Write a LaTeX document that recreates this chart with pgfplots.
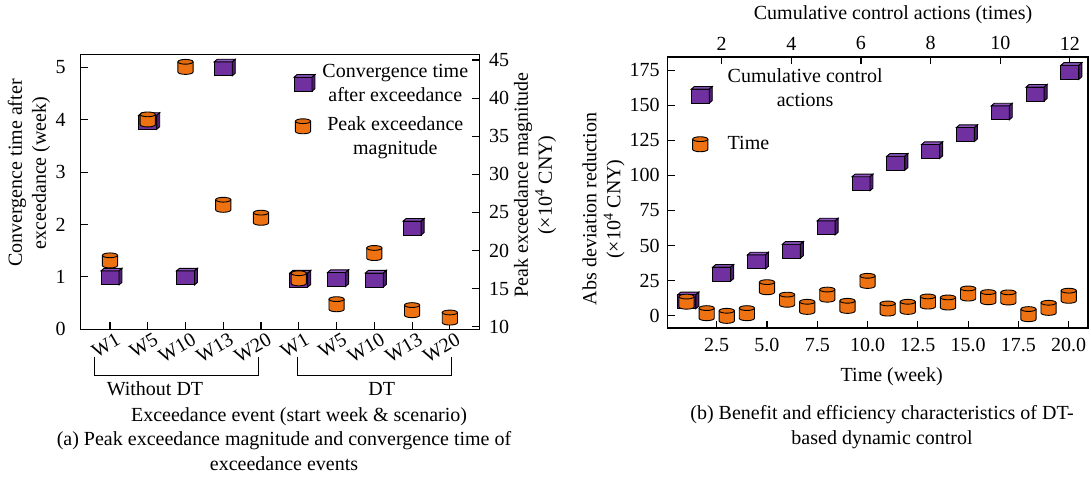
\documentclass[border=0pt]{standalone}
\usepackage{fontspec}
\setmainfont{Liberation Serif}
\usepackage{pgfplots}
\pgfplotsset{compat=1.18}

\definecolor{cubefront}{HTML}{7030A0}
\definecolor{cubetop}{HTML}{9158C4}
\definecolor{cubeside}{HTML}{4E1F73}
\definecolor{cylbody}{HTML}{EE7212}
\definecolor{cyltop}{HTML}{E36A0C}

% purple box drawn in a simple oblique projection
\pgfdeclareplotmark{dtbox}{%
  \pgfsetlinewidth{0.9pt}\pgfsetstrokecolor{black}%
  \pgfsetfillcolor{cubefront}%
  \pgfpathrectangle{\pgfpoint{-9pt}{-7pt}}{\pgfpoint{18pt}{14pt}}%
  \pgfusepath{fill,stroke}%
  \pgfsetfillcolor{cubetop}%
  \pgfpathmoveto{\pgfpoint{-9pt}{7pt}}%
  \pgfpathlineto{\pgfpoint{-6pt}{9.6pt}}%
  \pgfpathlineto{\pgfpoint{12pt}{9.6pt}}%
  \pgfpathlineto{\pgfpoint{9pt}{7pt}}%
  \pgfpathclose\pgfusepath{fill,stroke}%
  \pgfsetfillcolor{cubeside}%
  \pgfpathmoveto{\pgfpoint{9pt}{7pt}}%
  \pgfpathlineto{\pgfpoint{12pt}{9.6pt}}%
  \pgfpathlineto{\pgfpoint{12pt}{-4.4pt}}%
  \pgfpathlineto{\pgfpoint{9pt}{-7pt}}%
  \pgfpathclose\pgfusepath{fill,stroke}%
}
% orange cylinder
\pgfdeclareplotmark{dtcyl}{%
  \pgfsetlinewidth{0.9pt}\pgfsetstrokecolor{black}%
  \pgfsetfillcolor{cylbody}%
  \pgfpathmoveto{\pgfpoint{-7.6pt}{5.1pt}}%
  \pgfpathlineto{\pgfpoint{-7.6pt}{-5.1pt}}%
  \pgfpatharc{180}{360}{7.6pt and 2.4pt}%
  \pgfpathlineto{\pgfpoint{7.6pt}{5.1pt}}%
  \pgfusepath{fill,stroke}%
  \pgfsetfillcolor{cyltop}%
  \pgfpathellipse{\pgfpoint{0pt}{5.1pt}}{\pgfpoint{7.6pt}{0pt}}{\pgfpoint{0pt}{2.4pt}}%
  \pgfusepath{fill,stroke}%
}

\pgfplotsset{
  frame/.style={
    scale only axis, clip=false,
    tick align=inside, major tick length=7.5pt,
    axis line style={line width=1.2pt},
    tick style={line width=1.1pt, black},
    /pgf/number format/assume math mode=true,
  },
  boximg/.style={legend image code/.code={%
    \path (0pt,0pt) (20pt,0pt);
    \pgfscope\pgftransformshift{\pgfpoint{10pt}{#1}}\pgfuseplotmark{dtbox}\endpgfscope}},
  cylimg/.style={legend image code/.code={%
    \path (0pt,0pt) (20pt,0pt);
    \pgfscope\pgftransformshift{\pgfpoint{10pt}{#1}}\pgfuseplotmark{dtcyl}\endpgfscope}},
}

\begin{document}
\fontsize{20}{24}\selectfont
\begin{tikzpicture}
\path[use as bounding box] (0pt,-476pt) rectangle (1091pt,0pt);

% ---------------- (a) exceedance events ----------------
\begin{axis}[frame,
  at={(80.5pt,-329.3pt)}, anchor=south west,
  width=398.8pt, height=274.6pt,
  xmin=-0.78, xmax=9.78, ymin=0, ymax=5.24,
  xtick={0,...,9},
  xticklabels={W1,W5,W10,W13,W20,W1,W5,W10,W13,W20},
  ytick={0,...,5},
  xtick pos=left, ytick pos=left,
  xticklabel style={rotate=30, anchor=north east, inner sep=0pt, xshift=3pt, yshift=-5pt},
  yticklabel style={xshift=-8pt},
]
\addplot[black, only marks, mark=dtbox] coordinates {
  (0,0.98) (1,3.95) (2,0.98) (3,4.97) (5,0.94) (6,0.95) (7,0.94) (8,1.93)};
\end{axis}

\begin{axis}[frame,
  at={(80.5pt,-329.3pt)}, anchor=south west,
  width=398.8pt, height=274.6pt,
  xmin=-0.78, xmax=9.78, ymin=9.66, ymax=45.7,
  axis x line=none, axis y line*=right,
  ytick={10,15,...,45},
  yticklabel style={xshift=3pt},
  legend style={draw=none, fill=none, at={(0.985,0.981)}, anchor=north east,
    cells={align=center}, row sep=8pt, column sep=5pt},
]
\addlegendimage{boximg=0pt}
\addlegendentry{Convergence time\\after exceedance}
\addplot[black, only marks, mark=dtcyl, cylimg=10.5pt] coordinates {
  (0,18.7) (1,37.2) (2,44.1) (3,26.0) (4,24.3)
  (5,16.35) (6,12.95) (7,19.67) (8,12.17) (9,11.2)};
\addlegendentry{Peak exceedance\\magnitude}
\end{axis}

\node[rotate=90, align=center] at (29pt,-173pt) {Convergence time after\\exceedance (week)};
\node[rotate=90, align=center] at (535pt,-185pt) {Peak exceedance magnitude\\(×10\textsuperscript{4} CNY)};
\draw[line width=1pt] (94.7pt,-356.7pt) -- (94.7pt,-375pt) -- (258.3pt,-375pt) -- (258.3pt,-356.7pt);
\draw[line width=1pt] (297.3pt,-356.7pt) -- (297.3pt,-375pt) -- (451pt,-375pt) -- (451pt,-356.7pt);
\node at (155pt,-389pt) {Without DT};
\node at (381.7pt,-389pt) {DT};
\node at (299pt,-416.7pt) {Exceedance event (start week \& scenario)};
\node[align=center, font=\fontsize{20}{25}\selectfont] at (284pt,-451pt)
  {(a) Peak exceedance magnitude and convergence time of\\exceedance events};

% ---------------- (b) dynamic control ----------------
\begin{axis}[frame,
  at={(667.5pt,-328pt)}, anchor=south west,
  width=420.5pt, height=271pt,
  xmin=0.444, xmax=12.52, ymin=-8.76, ymax=184.3,
  axis x line*=top, axis y line=none,
  xtick={2,4,...,12},
]
\addplot[black, only marks, mark=dtbox] coordinates {
  (1,10.0) (2,29.6) (3,38.4) (4,45.9) (5,62.6) (6,94.0)
  (7,108.6) (8,117.0) (9,129.1) (10,144.5) (11,157.9) (12,173.4)};
\end{axis}

\begin{axis}[frame,
  at={(667.5pt,-328pt)}, anchor=south west,
  width=420.5pt, height=271pt,
  xmin=0.054, xmax=20.96, ymin=-8.76, ymax=184.3,
  xtick={2.5,5,...,20}, ytick={0,25,...,175},
  xtick pos=left, ytick pos=left,
  xticklabel style={yshift=-3.5pt, /pgf/number format/.cd, fixed, fixed zerofill, precision=1},
  yticklabel style={xshift=-1pt},
  legend cell align=left,
  legend style={draw=none, fill=none, at={(0.046,0.974)}, anchor=north west,
    cells={align=center}, row sep=23pt, column sep=13pt},
]
\addlegendimage{boximg=-7.5pt}
\addlegendentry{Cumulative control\\actions}
\addplot[black, only marks, mark=dtcyl, cylimg=0pt] coordinates {
  (1,10.0) (2,1.8) (3,-0.1) (4,1.8) (5,20.3) (6,11.4) (7,6.3) (8,15.0) (9,7.0) (10,24.8)
  (11,5.1) (12,6.3) (13,10.1) (14,9.4) (15,15.8) (16,13.2) (17,13.0) (18,1.1) (19,5.6) (20,14.2)};
\addlegendentry{Time}
\end{axis}

\node[rotate=90, align=center] at (603.5pt,-209pt) {Abs deviation reduction\\(×10\textsuperscript{4} CNY)};
\node at (891.7pt,-376.7pt) {Time (week)};
\node at (893pt,-15pt) {Cumulative control actions (times)};
\node[align=center, font=\fontsize{20}{25}\selectfont] at (882pt,-426.8pt)
  {(b) Benefit and efficiency characteristics of DT-\\based dynamic control};
\end{tikzpicture}
\end{document}
